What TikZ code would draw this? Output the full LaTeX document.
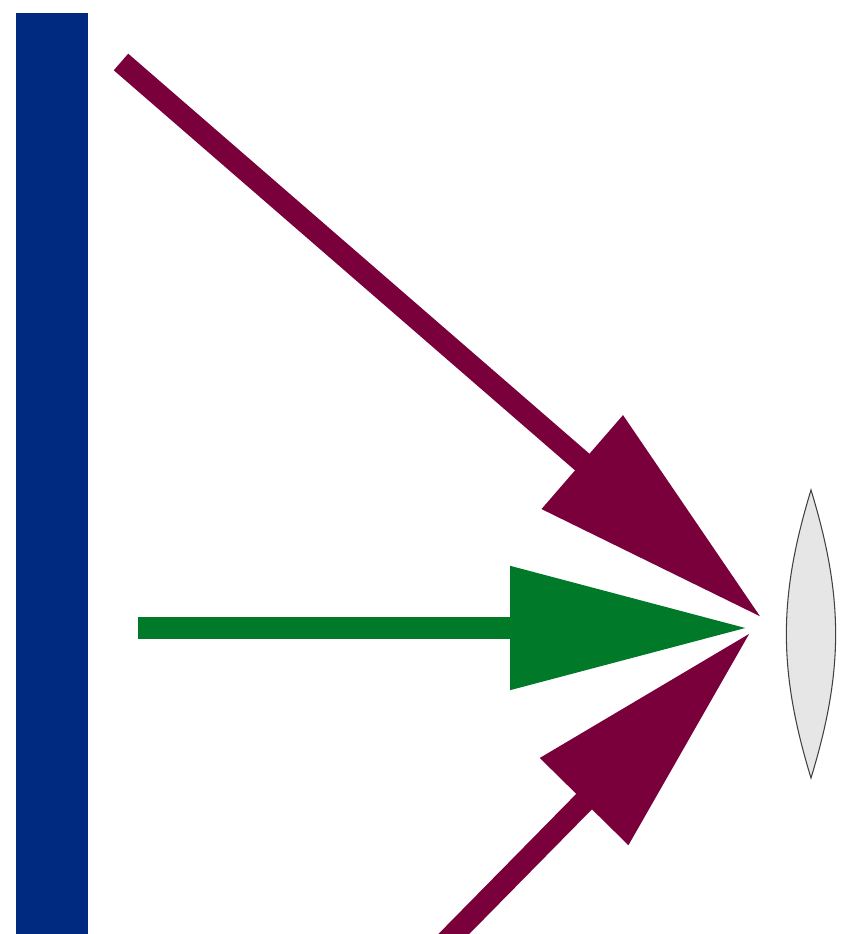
\documentclass[tikz,border=0pt]{standalone}
\usepackage{tikz}
\usetikzlibrary{arrows.meta}

\definecolor{screenblue}{RGB}{0,42,128}
\definecolor{raymaroon}{RGB}{122,0,60}
\definecolor{raygreen}{RGB}{0,122,40}
\definecolor{lensgray}{RGB}{230,230,230}

\tikzset{
    ray/.style={line width=0.44cm, -{Triangle[length=4.76cm,width=2.36cm]}},
    lens/.style={fill=lensgray, draw=black!75, line width=0.6pt}
}

\begin{document}
\begin{tikzpicture}[x=0.02cm,y=0.02cm]
    \useasboundingbox (0,0) rectangle (840,934);
    % Screen on the left
    \fill[screenblue] (16,0) rectangle (88,921);
    % Points for the rays
    \coordinate (topstart) at (121,872);
    \coordinate (toptip) at (762,316);
    \coordinate (midstart) at (138,306);
    \coordinate (midtip) at (748,306);
    \coordinate (lowstart) at (442,-12);
    \coordinate (lowtip) at (751,302);
    % Rays converging on the lens
    \draw[ray, raymaroon] (topstart) -- (toptip);
    \draw[ray, raygreen] (midstart) -- (midtip);
    \draw[ray, raymaroon] (lowstart) -- (lowtip);
    % Lens
    \coordinate (lenstop) at (811,444);
    \coordinate (lensbottom) at (811,156);
    \draw[lens] (lenstop) to[bend right=17] (lensbottom) to[bend right=17] (lenstop) -- cycle;
\end{tikzpicture}
\end{document}
